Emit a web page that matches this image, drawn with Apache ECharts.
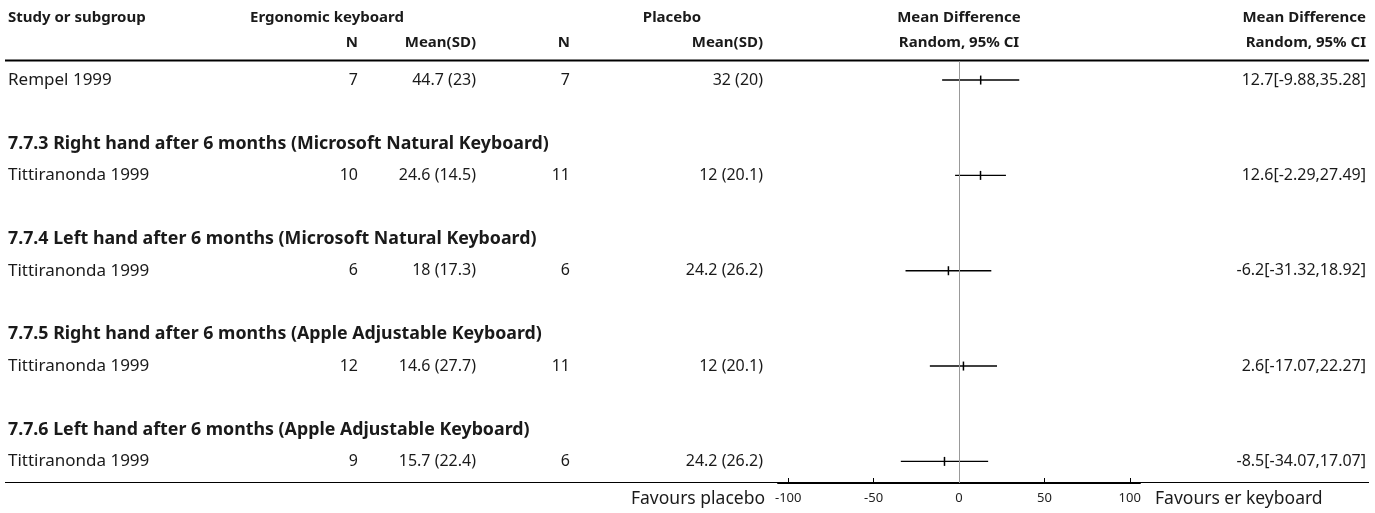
<!DOCTYPE html>
<html>
<head>
<meta charset="utf-8">
<script src="https://cdn.jsdelivr.net/npm/echarts@6/dist/echarts.min.js"></script>
<style>
html,body{margin:0;padding:0;background:#fff;}
#chart{width:1375px;height:513px;}
</style>
</head>
<body>
<div id="chart"></div>
<script>
// ---- data ----
const studies = ['Rempel 1999', 'Tittiranonda 1999', 'Tittiranonda 1999', 'Tittiranonda 1999', 'Tittiranonda 1999'];
const studyRows = [0, 3, 6, 9, 12];
const subgroups = [
  '7.7.3 Right hand after 6 months (Microsoft Natural Keyboard)',
  '7.7.4 Left hand after 6 months (Microsoft Natural Keyboard)',
  '7.7.5 Right hand after 6 months (Apple Adjustable Keyboard)',
  '7.7.6 Left hand after 6 months (Apple Adjustable Keyboard)'
];
const subgroupRows = [2, 5, 8, 11];
const nErgo = [7, 10, 6, 12, 9];
const meanSdErgo = ['44.7 (23)', '24.6 (14.5)', '18 (17.3)', '14.6 (27.7)', '15.7 (22.4)'];
const nPlacebo = [7, 11, 6, 11, 6];
const meanSdPlacebo = ['32 (20)', '12 (20.1)', '24.2 (26.2)', '12 (20.1)', '24.2 (26.2)'];
const meanDiff = [12.7, 12.6, -6.2, 2.6, -8.5];
const ciLow = [-9.88, -2.29, -31.32, -17.07, -34.07];
const ciHigh = [35.28, 27.49, 18.92, 22.27, 17.07];
const xTicks = [-100, -50, 0, 50, 100];

// ---- layout ----
const FONT = '"Noto Sans", sans-serif';
const FS_HEAD = 15;
const FS_SUB = 17.8;
const FS_NAME = 17;
const FS_NUM = 16;
const FS_FOOT = 17.5;
const TXT = '#1a1a1a';
const colStudyX = 8;
const colNErgoX = 358;
const colMeanErgoX = 476;
const colNPlacX = 570;
const colMeanPlacX = 763;
const colResultX = 1366;

const ciData = studies.map((s, i) => [ciLow[i], ciHigh[i], meanDiff[i], studyRows[i]]);
const rowTextData = studies.map((s, i) => [studyRows[i], i]);
const subTextData = subgroups.map((s, i) => [subgroupRows[i], i]);

function fmtCI(i) {
  return meanDiff[i] + '[' + ciLow[i] + ',' + ciHigh[i] + ']';
}

function txt(x, y, text, align, bold, fs) {
  return {
    type: 'text', x: x, y: y,
    style: { text: text, fill: TXT, font: (bold ? 'bold ' : '') + fs + 'px ' + FONT, textAlign: align, textVerticalAlign: 'middle' }
  };
}

const chart = echarts.init(document.getElementById('chart'), null, { renderer: 'canvas' });

const option = {
  animation: false,
  backgroundColor: '#fff',
  grid: { left: 778, width: 362, top: 61, height: 422, containLabel: false },
  xAxis: {
    type: 'value', min: -106, max: 106,
    axisLine: { show: true, onZero: false, lineStyle: { color: '#000', width: 2 } },
    axisTick: { show: true, inside: true, length: 5, customValues: xTicks, lineStyle: { color: '#000', width: 1 } },
    axisLabel: { show: true, customValues: xTicks, margin: 9, fontSize: 13, color: '#222', fontFamily: FONT },
    splitLine: { show: false }
  },
  yAxis: {
    type: 'value', min: -0.6, max: 12.68, inverse: true, show: false,
    splitLine: { show: false }
  },
  graphic: [
    // header text
    txt(colStudyX, 18, 'Study or subgroup', 'left', true, FS_HEAD),
    txt(327, 18, 'Ergonomic keyboard', 'center', true, FS_HEAD),
    txt(672, 18, 'Placebo', 'center', true, FS_HEAD),
    txt(959, 18, 'Mean Difference', 'center', true, FS_HEAD),
    txt(colResultX, 18, 'Mean Difference', 'right', true, FS_HEAD),
    txt(colNErgoX, 43, 'N', 'right', true, FS_HEAD),
    txt(colMeanErgoX, 43, 'Mean(SD)', 'right', true, FS_HEAD),
    txt(colNPlacX, 43, 'N', 'right', true, FS_HEAD),
    txt(colMeanPlacX, 43, 'Mean(SD)', 'right', true, FS_HEAD),
    txt(959, 43, 'Random, 95% CI', 'center', true, FS_HEAD),
    txt(colResultX, 43, 'Random, 95% CI', 'right', true, FS_HEAD),
    // rules
    { type: 'line', shape: { x1: 5, y1: 60.5, x2: 1369, y2: 60.5 }, style: { stroke: '#000', lineWidth: 2 } },
    { type: 'line', shape: { x1: 5, y1: 482.5, x2: 1369, y2: 482.5 }, style: { stroke: '#000', lineWidth: 1 } },
    // footer text
    txt(765, 499, 'Favours placebo', 'right', false, FS_FOOT),
    txt(1155, 499, 'Favours er keyboard', 'left', false, FS_FOOT)
  ],
  series: [
    {
      type: 'custom',
      name: 'CI',
      data: ciData,
      clip: false,
      renderItem: function (params, api) {
        const lo = api.coord([api.value(0), api.value(3)]);
        const hi = api.coord([api.value(1), api.value(3)]);
        const mid = api.coord([api.value(2), api.value(3)]);
        return {
          type: 'group',
          children: [
            { type: 'line', shape: { x1: lo[0], y1: lo[1], x2: hi[0], y2: hi[1] }, style: { stroke: '#000', lineWidth: 1.4 } },
            { type: 'line', shape: { x1: mid[0], y1: mid[1] - 4.5, x2: mid[0], y2: mid[1] + 4.5 }, style: { stroke: '#000', lineWidth: 1.5 } }
          ]
        };
      },
      markLine: {
        silent: true, symbol: 'none', label: { show: false },
        lineStyle: { color: '#999', width: 1, type: 'solid' },
        data: [{ xAxis: 0 }]
      },
      z: 3
    },
    {
      type: 'custom',
      name: 'rows',
      data: rowTextData,
      clip: false,
      renderItem: function (params, api) {
        const i = api.value(1);
        const y = api.coord([0, api.value(0)])[1];
        const mk = (x, t, a, fs) => ({ type: 'text', x: x, y: y, style: { text: String(t), fill: TXT, font: fs + 'px ' + FONT, textAlign: a, textVerticalAlign: 'middle' } });
        return {
          type: 'group',
          children: [
            mk(colStudyX, studies[i], 'left', FS_NAME),
            mk(colNErgoX, nErgo[i], 'right', FS_NUM),
            mk(colMeanErgoX, meanSdErgo[i], 'right', FS_NUM),
            mk(colNPlacX, nPlacebo[i], 'right', FS_NUM),
            mk(colMeanPlacX, meanSdPlacebo[i], 'right', FS_NUM),
            mk(colResultX, fmtCI(i), 'right', FS_NUM)
          ]
        };
      }
    },
    {
      type: 'custom',
      name: 'subgroups',
      data: subTextData,
      clip: false,
      renderItem: function (params, api) {
        const i = api.value(1);
        const y = api.coord([0, api.value(0)])[1];
        return { type: 'text', x: colStudyX, y: y, style: { text: subgroups[i], fill: TXT, font: 'bold ' + FS_SUB + 'px ' + FONT, textAlign: 'left', textVerticalAlign: 'middle' } };
      }
    }
  ]
};
chart.setOption(option);
</script>
</body>
</html>
